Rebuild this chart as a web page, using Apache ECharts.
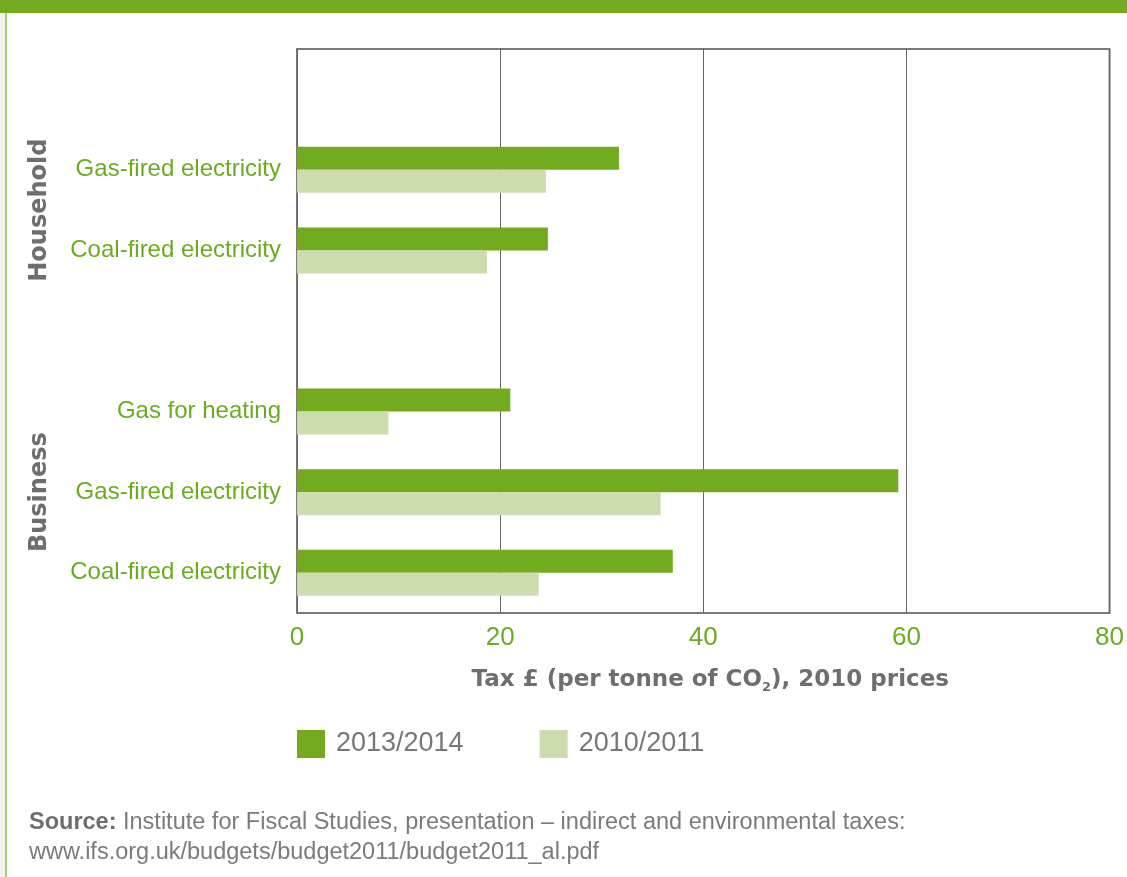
<!DOCTYPE html>
<html>
<head>
<meta charset="utf-8">
<script src="https://cdn.jsdelivr.net/npm/echarts@6/dist/echarts.min.js"></script>
<style>
html,body{margin:0;padding:0;background:#fff;}
#main{width:1127px;height:877px;}
</style>
</head>
<body>
<div id="main"></div>
<script>
// categories, top to bottom (empty slots give the spacing between groups)
var slotKeys=['hh_pad','hh_gas','hh_coal','gap','bz_heat','bz_gas','bz_coal'];
var slotLabels=['','Gas-fired electricity','Coal-fired electricity','','Gas for heating','Gas-fired electricity','Coal-fired electricity'];
// tax £ per tonne of CO2, 2010 prices
var tax2013=[null,31.7,24.7,null,21.0,59.2,37.0];
var tax2010=[null,24.5,18.7,null,9.0,35.8,23.8];
var seriesNames=['2013/2014','2010/2011'];
var xTicks=[0,20,40,60,80];
// group label -> first and last slot
var groups=[
    {name:'Household',from:'hh_gas',to:'hh_coal'},
    {name:'Business',from:'bz_heat',to:'bz_coal'}
];

var green='#6cab1f';
var grey='#777777';

var chart=echarts.init(document.getElementById('main'));
var option={
    animation:false,
    color:['#72ab20','#cddcae'],
    legend:{
        data:seriesNames,
        left:297,
        top:730,
        padding:0,
        itemWidth:28,
        itemHeight:28,
        itemGap:76,
        icon:'rect',
        textStyle:{
            color:grey,
            fontSize:27,
            fontFamily:'Liberation Sans',
            padding:[0,0,0,6]
        }
    },
    grid:{
        left:297,
        right:14,
        top:49,
        height:564,
        show:true,
        borderColor:'#7a7a7a',
        borderWidth:2,
        containLabel:false
    },
    xAxis:{
        type:'value',
        min:xTicks[0],
        max:xTicks[xTicks.length-1],
        interval:20,
        axisLine:{show:false},
        axisTick:{show:false},
        splitLine:{lineStyle:{color:'#666',width:1}},
        axisLabel:{
            color:green,
            fontSize:26,
            fontFamily:'Liberation Sans',
            margin:12
        },
        name:'{a|Tax £ (per tonne of CO}{s|2}{a|), 2010 prices}',
        nameLocation:'middle',
        nameGap:54,
        nameTextStyle:{
            padding:[0,0,0,14],
            rich:{
                a:{color:'#6e6e6e',fontSize:23,fontWeight:'bold',fontFamily:'DejaVu Sans'},
                s:{color:'#6e6e6e',fontSize:13,fontWeight:'bold',fontFamily:'DejaVu Sans',padding:[14,0,0,0]}
            }
        }
    },
    yAxis:{
        type:'category',
        inverse:true,
        data:slotKeys,
        axisLine:{show:false},
        axisTick:{show:false},
        splitLine:{show:false},
        axisLabel:{
            color:green,
            fontSize:24,
            fontFamily:'Liberation Sans',
            margin:16,
            formatter:function(v,i){return slotLabels[i];}
        }
    },
    series:[{
        name:seriesNames[0],
        type:'bar',
        data:tax2013,
        barWidth:23,
        barGap:'0%'
    },{
        name:seriesNames[1],
        type:'bar',
        data:tax2010,
        barWidth:23,
        barGap:'0%'
    }]
};
chart.setOption(option);

// frame, group labels and source note
var graphics=[
    {type:'rect',shape:{x:0,y:0,width:1127,height:13},style:{fill:'#72aa21'},silent:true},
    {type:'rect',shape:{x:0,y:13,width:5,height:864},style:{fill:'#f1f4ec'},silent:true},
    {type:'rect',shape:{x:5,y:13,width:2,height:864},style:{fill:'#a8cc7a'},silent:true},
    {
        type:'text',
        left:29,
        top:808,
        style:{
            text:'{b|Source:} Institute for Fiscal Studies, presentation – indirect and environmental taxes:\nwww.ifs.org.uk/budgets/budget2011/budget2011_al.pdf',
            fill:'#7b7b7b',
            font:'23.5px "Liberation Sans"',
            lineHeight:30,
            rich:{
                b:{fill:'#6e6e6e',fontWeight:'bold',fontSize:23.5,fontFamily:'Liberation Sans'}
            }
        }
    }
];
groups.forEach(function(g){
    var y1=chart.convertToPixel({yAxisIndex:0},g.from);
    var y2=chart.convertToPixel({yAxisIndex:0},g.to);
    graphics.push({
        type:'text',
        x:40,
        y:(y1+y2)/2,
        rotation:Math.PI/2,
        style:{
            text:g.name,
            fill:'#6e6e6e',
            font:'bold 24px "DejaVu Sans"',
            align:'center',
            verticalAlign:'middle'
        }
    });
});
chart.setOption({graphic:graphics});
</script>
</body>
</html>
